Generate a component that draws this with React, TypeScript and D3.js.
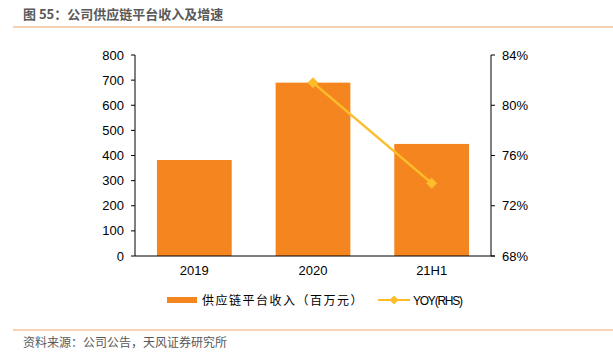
import React from "react";
import * as d3 from "d3";

const categories = ["2019", "2020", "21H1"];
const revenue = [382, 690, 446];
const yoy = [null, 81.8, 73.8];
const leftTicks = [0, 100, 200, 300, 400, 500, 600, 700, 800];
const rightTicks = [68, 72, 76, 80, 84];

export default function App() {
  const W = 613, H = 355;
  const x0 = 135, x1 = 491, yTop = 55, yBot = 256;
  const x = d3.scaleBand().domain(categories).range([x0, x1]).paddingInner(0.37).paddingOuter(0.185);
  const yL = d3.scaleLinear().domain([0, 800]).range([yBot, yTop]);
  const yR = d3.scaleLinear().domain([68, 84]).range([yBot, yTop]);
  const barColor = "#F5861F";
  const lineColor = "#FBBE2A";
  const font = "'Liberation Sans', Arial, sans-serif";
  const cjk = "'Noto Sans CJK SC', sans-serif";
  const pts = categories
    .map((c, i) => (yoy[i] == null ? null : [x(c)! + x.bandwidth() / 2, yR(yoy[i] as number)]))
    .filter((p) => p) as [number, number][];
  const line = d3.line()(pts);
  const diamond = (cx: number, cy: number, r: number) =>
    `M${cx},${cy - r}L${cx + r},${cy}L${cx},${cy + r}L${cx - r},${cy}Z`;
  return (
    <svg width={W} height={H} style={{ position: "absolute", left: 0, top: 0 }}>
      <rect width={W} height={H} fill="#fff" />
      <text x={23} y={19} fontFamily={cjk} fontSize={13} fontWeight="bold" fill="#595959">
        图 55：公司供应链平台收入及增速
      </text>
      <line x1={13} x2={613} y1={27} y2={27} stroke="#E8A165" strokeWidth={1.2} />
      {categories.map((c, i) => (
        <rect key={c} x={x(c)} width={x.bandwidth()} y={yL(revenue[i])} height={yBot - yL(revenue[i])} fill={barColor} />
      ))}
      {/* left axis */}
      <line x1={x0} x2={x0} y1={yTop} y2={yBot} stroke="#000" />
      {leftTicks.map((t) => (
        <g key={t}>
          <line x1={x0 - 4} x2={x0} y1={yL(t)} y2={yL(t)} stroke="#000" />
          <text x={x0 - 11} y={yL(t) + 4.5} textAnchor="end" fontFamily={font} fontSize={13} fill="#000">{t}</text>
        </g>
      ))}
      {/* right axis */}
      <line x1={x1} x2={x1} y1={yTop} y2={yBot} stroke="#000" />
      {rightTicks.map((t) => (
        <g key={t}>
          <line x1={x1} x2={x1 + 4} y1={yR(t)} y2={yR(t)} stroke="#000" />
          <text x={x1 + 11} y={yR(t) + 4.5} fontFamily={font} fontSize={13} fill="#000">{t}%</text>
        </g>
      ))}
      <line x1={x0} x2={x1 + 4} y1={yBot} y2={yBot} stroke="#000" />
      {categories.map((c) => (
        <text key={c} x={x(c)! + x.bandwidth() / 2} y={yBot + 19} textAnchor="middle" fontFamily={font} fontSize={13} fill="#000">{c}</text>
      ))}
      <path d={line!} fill="none" stroke={lineColor} strokeWidth={2.5} />
      {pts.map(([px, py], i) => (
        <path key={i} d={diamond(px, py, 5.5)} fill={lineColor} />
      ))}
      {/* legend */}
      <rect x={167} y={297} width={30} height={6} fill={barColor} />
      <text x={202} y={305} fontFamily={cjk} fontSize={12} fill="#000" letterSpacing={1.5}>供应链平台收入（百万元）</text>
      <line x1={378} x2={410} y1={300} y2={300} stroke={lineColor} strokeWidth={2} />
      <path d={diamond(394, 300, 4.5)} fill={lineColor} />
      <text x={413} y={305} fontFamily={font} fontSize={12} fill="#000" textLength={50}>YOY(RHS)</text>
      <line x1={13} x2={613} y1={330} y2={330} stroke="#F0A868" strokeWidth={1.2} />
      <text x={23} y={347} fontFamily={cjk} fontSize={12} fill="#595959">资料来源：公司公告，天风证券研究所</text>
    </svg>
  );
}
